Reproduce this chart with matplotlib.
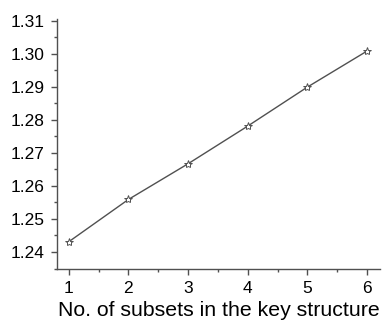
import matplotlib
matplotlib.use("Agg")
import matplotlib.pyplot as plt

plt.rcParams['font.family'] = ['Liberation Sans', 'DejaVu Sans']

subsets = [1, 2, 3, 4, 5, 6]
ratio = [1.2431, 1.2559, 1.2667, 1.2781, 1.2899, 1.3008]

fig = plt.figure(figsize=(3.84, 3.22), dpi=100)
ax = fig.add_axes([0.148, 0.165, 0.842, 0.776])

ax.plot(subsets, ratio, color="#505050", linewidth=1.0,
        marker="*", markersize=6, markerfacecolor="white",
        markeredgecolor="#505050", markeredgewidth=0.7)

ax.set_xlim(0.8, 6.22)
ax.set_ylim(1.2349, 1.3105)
ax.set_xticks(subsets)
ax.set_yticks([1.24, 1.25, 1.26, 1.27, 1.28, 1.29, 1.30, 1.31])
ax.set_yticklabels(["1.24", "1.25", "1.26", "1.27", "1.28", "1.29", "1.30", "1.31"])
ax.xaxis.set_minor_locator(plt.MultipleLocator(0.5))
ax.yaxis.set_minor_locator(plt.MultipleLocator(0.005))

for s in ["top", "right"]:
    ax.spines[s].set_visible(False)
for s in ["left", "bottom"]:
    ax.spines[s].set_color("#505050")
    ax.spines[s].set_linewidth(1.0)

ax.tick_params(which="major", length=4, width=1, color="#505050", labelsize=12.5, pad=5)
ax.tick_params(which="minor", length=2, width=1, color="#505050")
ax.set_xlabel("No. of subsets in the key structure", fontsize=15.3, labelpad=3)

fig.savefig("out.png", dpi=100)
